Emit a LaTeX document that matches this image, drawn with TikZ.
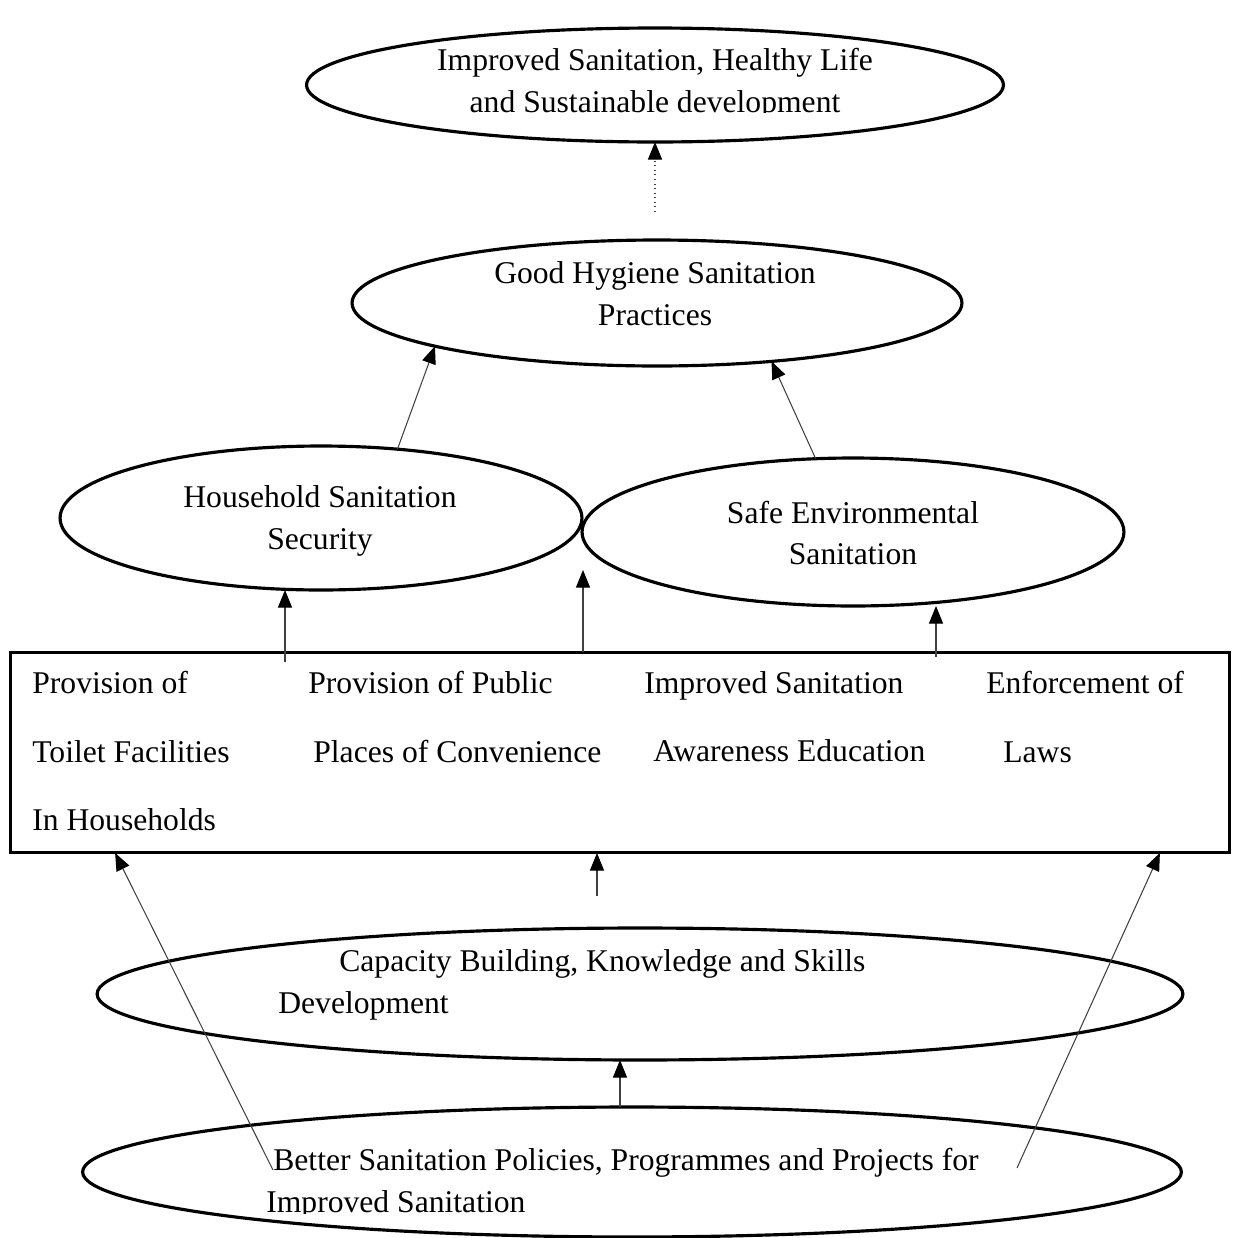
\documentclass[tikz,border=0pt]{standalone}
\usepackage{fontspec}
\setmainfont{Liberation Serif}
\usetikzlibrary{shapes.geometric,arrows.meta}

\begin{document}
\begin{tikzpicture}[x=0.02cm,y=-0.02cm,
bubble/.style={ellipse,draw,line width=1.8pt,inner sep=0pt,outer sep=0pt},
words/.style={align=center,inner sep=0pt,font=\fontsize{18pt}{23.8pt}\selectfont},
rows/.style={align=left,anchor=north west,inner sep=0pt,font=\fontsize{18pt}{39pt}\selectfont},
link/.style={black!75,line width=0.6pt,-{Triangle[length=10pt,width=8pt,color=black]}}]
\useasboundingbox (0,0) rectangle (1232,1238);
\node(outcome)[bubble,minimum width=13.94cm,minimum height=2.28cm] at (655,85){};
\begin{scope}
\clip (300,0) rectangle (1010,112);
\node(outcometext)[words] at (655,84){Improved Sanitation, Healthy Life\\and Sustainable development};
\end{scope}
\node(hygiene)[bubble,minimum width=12.2cm,minimum height=2.52cm] at (657,303){};
\node(hygienetext)[words] at (655,294){Good Hygiene Sanitation\\Practices};
\node(household)[bubble,minimum width=10.44cm,minimum height=2.88cm] at (321,518){};
\node(householdtext)[words] at (320,521){Household Sanitation\\Security};
\node(environment)[bubble,minimum width=10.84cm,minimum height=2.96cm] at (853,532){};
\node(environmenttext)[words] at (853,533){Safe Environmental\\Sanitation};
\node(box)[draw,line width=1.7pt,inner sep=0pt,outer sep=0pt,minimum width=24.4cm,minimum height=4.02cm] at (620,752.5){};
\node(toilets)[rows] at (32,671){Provision of\\Toilet Facilities\\In Households};
\node(publicplaces)[rows] at (308,671){Provision of Public\\\hspace*{0.1cm}Places of Convenience};
\node(awareness)[rows] at (644,671){Improved Sanitation\\\hspace*{0.18cm}Awareness Education};
\node(laws)[rows] at (986,671){Enforcement of\\\hspace*{0.34cm}Laws};
\node(capacity)[bubble,minimum width=21.72cm,minimum height=2.64cm] at (640,994){};
\node(capacitytext)[words,align=left,anchor=west] at (278,985){\hspace*{1.22cm}Capacity Building, Knowledge and Skills\\Development};
\node(policies)[bubble,minimum width=21.98cm,minimum height=2.6cm] at (632,1172){};
\begin{scope}
\clip (80,1100) rectangle (1190,1213);
\node(policiestext)[words,align=left,anchor=west] at (266,1184){\hspace*{0.14cm}Better Sanitation Policies, Programmes and Projects for\\Improved Sanitation};
\end{scope}
\coordinate(dotstart) at (655,212);
\path[draw,link,dotted] (dotstart) -- (outcome.south);
\path[draw,link] (household.42) -- (hygiene.191);
\path[draw,link] (environment.117) -- (hygiene.333);
\coordinate(hsstart) at (285,662);
\path[draw,link] (hsstart) -- (household.south -| hsstart);
\coordinate(midtip) at (583,570);
\path[draw,link] (box.north -| midtip) -- (midtip);
\coordinate(sestart) at (936,657);
\path[draw,link] (sestart) -- (environment.south -| sestart);
\coordinate(capstart) at (597,896);
\path[draw,link] (capstart) -- (box.south -| capstart);
\coordinate(polstart) at (620,1107);
\path[draw,link] (polstart) -- (capacity.south -| polstart);
\coordinate(leftstart) at (273,1170);
\path[draw,link] (leftstart) -- ([xshift=2.1cm]box.south west);
\coordinate(rightstart) at (1017,1168);
\path[draw,link] (rightstart) -- ([xshift=-1.4cm]box.south east);
\end{tikzpicture}
\end{document}
